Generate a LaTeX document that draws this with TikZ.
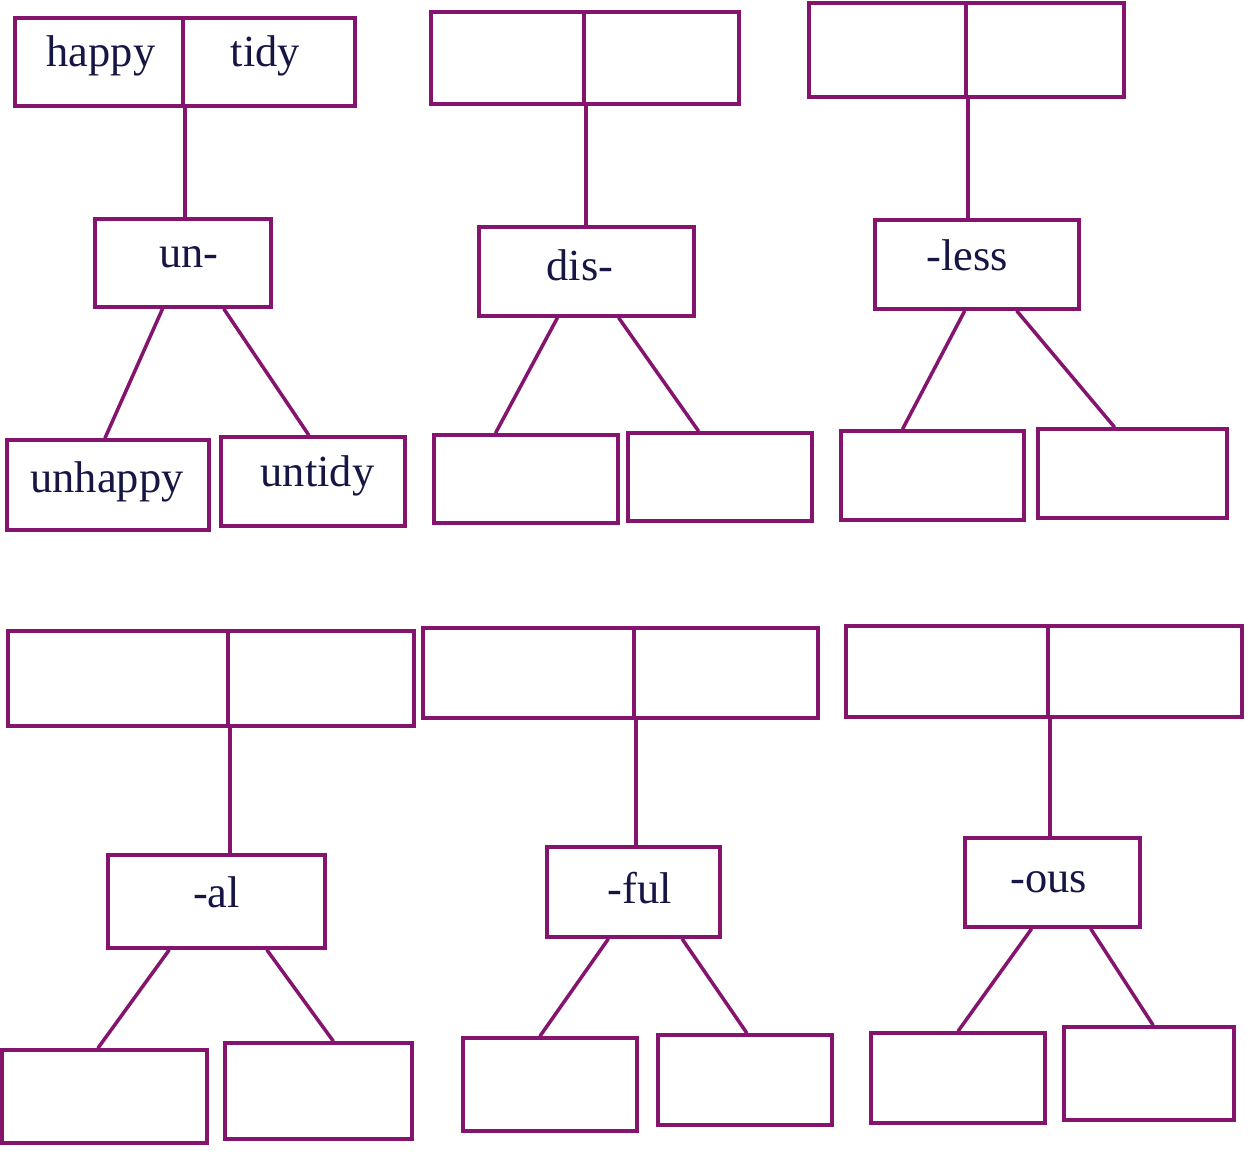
\documentclass[tikz,border=0pt]{standalone}
\usepackage{fontspec}
\setmainfont{Liberation Serif}
\usetikzlibrary{calc}
\definecolor{boxcol}{HTML}{85146F}
\definecolor{txtcol}{HTML}{161645}
\def\u{0.02cm}
\tikzset{
  wbox/.style args={#1/#2}{draw=boxcol, line width=2pt, rectangle, inner sep=0pt,
    minimum width=#1*\u, minimum height=#2*\u},
  word/.style={text=txtcol, anchor=base, inner sep=0pt, font=\fontsize{25.3}{30}\selectfont},
  link/.style={draw=boxcol, line width=2pt}
}
\begin{document}
\begin{tikzpicture}[x=0.02cm, y=-0.02cm]
\useasboundingbox (0,0) rectangle (1250,1152);
% ---------- group 1: un- ----------
\node[wbox=168/88] (a1) at (99,62) {};
\node[wbox=172/88] (a2) at (269,62) {};
\node[wbox=176/88] (am) at (183,263) {};
\node[wbox=202/90] (al) at (108,485) {};
\node[wbox=184/89] (ar) at (313,481.5) {};
\node[word] (ta1) at (101,67) {happy};
\node[word] (ta2) at (265.5,67) {tidy};
\node[word] (tam) at (189,267) {un-};
\node[word] (tal) at (107,492) {unhappy};
\node[word] (tar) at (317.5,486) {untidy};
\draw[link] (a1.south east) -- (a1.south east |- am.north);
\draw[link] ($(am.south west)!.386!(am.south east)$) -- ($(al.north west)!.485!(al.north east)$);
\draw[link] ($(am.south west)!.727!(am.south east)$) -- ($(ar.north west)!.478!(ar.north east)$);
% ---------- group 2: dis- ----------
\node[wbox=153/92] (b1) at (507.5,58) {};
\node[wbox=155/92] (b2) at (661.5,58) {};
\node[wbox=215/89] (bm) at (586.5,271.5) {};
\node[wbox=184/88] (bl) at (526,479) {};
\node[wbox=184/88] (br) at (720,477) {};
\node[word] (tbm) at (580,280) {dis-};
\draw[link] (b1.south east) -- (b1.south east |- bm.north);
\draw[link] ($(bm.south west)!.367!(bm.south east)$) -- ($(bl.north west)!.337!(bl.north east)$);
\draw[link] ($(bm.south west)!.647!(bm.south east)$) -- ($(br.north west)!.386!(br.north east)$);
% ---------- group 3: -less ----------
\node[wbox=157/94] (c1) at (887.5,50) {};
\node[wbox=158/94] (c2) at (1045,50) {};
\node[wbox=204/89] (cm) at (977,264.5) {};
\node[wbox=183/89] (cl) at (932.5,475.5) {};
\node[wbox=189/89] (cr) at (1132.5,473.5) {};
\node[word] (tcm) at (967,270) {-less};
\draw[link] (c1.south east) -- (c1.south east |- cm.north);
\draw[link] ($(cm.south west)!.441!(cm.south east)$) -- ($(cl.north west)!.339!(cl.north east)$);
\draw[link] ($(cm.south west)!.691!(cm.south east)$) -- ($(cr.north west)!.407!(cr.north east)$);
% ---------- group 4: -al ----------
\node[wbox=220/95] (d1) at (118,678.5) {};
\node[wbox=186/95] (d2) at (321,678.5) {};
\node[wbox=217/93] (dm) at (216.5,901.5) {};
\node[wbox=205/93] (dl) at (104.5,1096.5) {};
\node[wbox=187/96] (dr) at (318.5,1091) {};
\node[word] (tdm) at (216.5,907) {-al};
\draw[link] (d1.south east) -- (d1.south east |- dm.north);
\draw[link] ($(dm.south west)!.286!(dm.south east)$) -- ($(dl.north west)!.468!(dl.north east)$);
\draw[link] ($(dm.south west)!.728!(dm.south east)$) -- ($(dr.north west)!.578!(dr.north east)$);
% ---------- group 5: -ful ----------
\node[wbox=211/90] (e1) at (528.5,673) {};
\node[wbox=184/90] (e2) at (726,673) {};
\node[wbox=173/90] (em) at (633.5,892) {};
\node[wbox=174/93] (el) at (550,1084.5) {};
\node[wbox=174/90] (er) at (745,1080) {};
\node[word] (tem) at (640,903) {-ful};
\draw[link] (e1.south east) -- (e1.south east |- em.north);
\draw[link] ($(em.south west)!.358!(em.south east)$) -- ($(el.north west)!.443!(el.north east)$);
\draw[link] ($(em.south west)!.775!(em.south east)$) -- ($(er.north west)!.511!(er.north east)$);
% ---------- group 6: -ous ----------
\node[wbox=202/91] (f1) at (947,671.5) {};
\node[wbox=194/91] (f2) at (1145,671.5) {};
\node[wbox=175/89] (fm) at (1052.5,882.5) {};
\node[wbox=174/90] (fl) at (958,1078) {};
\node[wbox=170/93] (fr) at (1149,1073.5) {};
\node[word] (tfm) at (1049,892) {-ous};
\draw[link] (f1.south east) -- (f1.south east |- fm.north);
\draw[link] ($(fm.south west)!.383!(fm.south east)$) -- ($(fl.north west)!.5!(fl.north east)$);
\draw[link] ($(fm.south west)!.714!(fm.south east)$) -- ($(fr.north west)!.524!(fr.north east)$);
\end{tikzpicture}
\end{document}
